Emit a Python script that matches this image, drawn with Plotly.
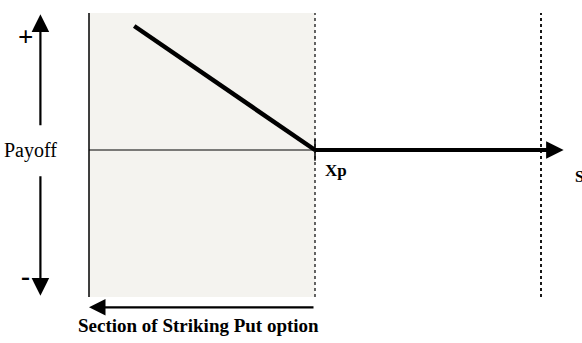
import plotly.graph_objects as go

# Data (stock price S, payoff)
strike = 100
s_left = [20, 100]
payoff_left = [80, 0]
s_right = [100, 204]
payoff_right = [0, 0]
region_start = 0
region_end = 100
far_marker = 200
y_top = 88.4
y_bottom = -94.8

fig = go.Figure()

fig.add_shape(type="rect", x0=region_start, x1=region_end, y0=y_bottom, y1=y_top,
              fillcolor="#f4f3ef", line=dict(width=0), layer="below")
fig.add_shape(type="line", x0=region_start, x1=region_start, y0=y_bottom, y1=y_top,
              line=dict(color="black", width=1.5))
fig.add_shape(type="line", x0=region_end, x1=region_end, y0=y_bottom, y1=y_top,
              line=dict(color="black", width=1.2, dash="dot"))
fig.add_shape(type="line", x0=far_marker, x1=far_marker, y0=y_bottom, y1=y_top,
              line=dict(color="black", width=1.8, dash="dot"))
fig.add_shape(type="line", x0=region_start, x1=strike, y0=0, y1=0,
              line=dict(color="black", width=1))
fig.add_shape(type="line", x0=strike, x1=strike, y0=-7, y1=7,
              line=dict(color="black", width=1.5))

fig.add_trace(go.Scatter(x=s_left, y=payoff_left, mode="lines",
                         line=dict(color="black", width=4.5), hoverinfo="skip"))
fig.add_trace(go.Scatter(x=s_right, y=payoff_right, mode="lines",
                         line=dict(color="black", width=4), hoverinfo="skip"))

fig.add_annotation(x=210, y=0, ax=200, ay=0, xref="x", yref="y", axref="x", ayref="y",
                   showarrow=True, arrowhead=2, arrowsize=1.4, arrowwidth=2.5,
                   arrowcolor="black", text="")
xv = -21.5
fig.add_annotation(x=xv, y=87.5, ax=xv, ay=15, xref="x", yref="y", axref="x", ayref="y",
                   showarrow=True, arrowhead=2, arrowsize=1.6, arrowwidth=2.2,
                   arrowcolor="black", text="")
fig.add_annotation(x=xv, y=-94, ax=xv, ay=-16, xref="x", yref="y", axref="x", ayref="y",
                   showarrow=True, arrowhead=2, arrowsize=1.6, arrowwidth=2.2,
                   arrowcolor="black", text="")
fig.add_annotation(x=region_start, y=-101.5, ax=region_end, ay=-101.5, xref="x", yref="y",
                   axref="x", ayref="y", showarrow=True, arrowhead=2, arrowsize=1.5,
                   arrowwidth=2.2, arrowcolor="black", text="")

font = "Liberation Serif"
fig.add_annotation(x=-38.5, y=0, text="Payoff", showarrow=False, xanchor="left",
                   font=dict(family=font, size=20, color="black"))
fig.add_annotation(x=-28.3, y=73.0, text="<b>+</b>", showarrow=False,
                   font=dict(family=font, size=27, color="black"))
fig.add_annotation(x=-27.9, y=-81.5, text="<b>-</b>", showarrow=False,
                   font=dict(family=font, size=27, color="black"))
fig.add_annotation(x=103.5, y=-13, text="<b>Xp</b>", showarrow=False, xanchor="left",
                   font=dict(family=font, size=17, color="black"))
fig.add_annotation(x=214, y=-17, text="<b>S</b>", showarrow=False, xanchor="left",
                   font=dict(family=font, size=16, color="black"))
fig.add_annotation(x=48.5, y=-113.5, text="<b>Section of Striking Put option</b>", showarrow=False,
                   font=dict(family=font, size=19, color="black"))

fig.update_layout(width=582, height=343, margin=dict(l=0, r=0, t=0, b=0),
                  plot_bgcolor="white", paper_bgcolor="white", showlegend=False,
                  xaxis=dict(range=[-39.38, 218.14], visible=False, fixedrange=True),
                  yaxis=dict(range=[-124.5, 96.77], visible=False, fixedrange=True))
fig.write_html("out.html", config={"displayModeBar": False},
               post_script="document.body.style.margin='0';document.body.style.overflow='hidden';")
